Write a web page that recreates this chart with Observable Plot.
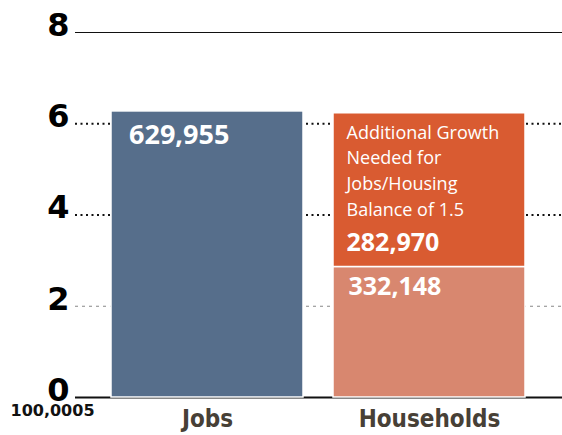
<!DOCTYPE html>
<html>
<head>
<meta charset="utf-8">
<script src="https://cdn.jsdelivr.net/npm/d3@7"></script>
<script src="https://cdn.jsdelivr.net/npm/@observablehq/plot@0.6"></script>
<style>
  html, body { margin: 0; padding: 0; background: #fff; }
  #chart svg { display: block; }
</style>
</head>
<body>
<div id="chart"></div>
<script>
// Values in units of 100,000 (heights)
const categories = ["Jobs", "Households", "Households"];
const series = ["Jobs", "Existing", "Additional"];
const values = [6.27, 2.86, 3.37];
const valueLabels = ["629,955", "332,148", "282,970"];
const yTicks = [0, 2, 4, 6, 8];
const unitLabel = "100,0005";
const noteText = "Additional Growth\nNeeded for\nJobs/Housing\nBalance of 1.5";
const colors = ["#566e8b", "#d8876f", "#d95b31"];

const data = categories.map((c, i) => ({cat: c, series: series[i], value: values[i], label: valueLabels[i]}));
// stacked tops/bottoms
const acc = {};
data.forEach(d => { d.y1 = acc[d.cat] || 0; d.y2 = d.y1 + d.value; acc[d.cat] = d.y2; });

const jobs = data.filter(d => d.series === "Jobs");
const existing = data.filter(d => d.series === "Existing");
const additional = data.filter(d => d.series === "Additional");

const numFont = "'Open Sans', sans-serif";

const chart = Plot.plot({
  width: 562,
  height: 435,
  marginLeft: 75,
  marginRight: 0,
  marginTop: 32,
  marginBottom: 38,
  style: {background: "#fff", overflow: "visible"},
  x: {domain: ["Jobs", "Households"], paddingInner: 0.135, paddingOuter: 0.16, align: 0.49, label: null},
  y: {domain: [0, 8], label: null},
  color: {domain: series, range: colors},
  marks: [
    Plot.ruleY([8], {stroke: "#111", strokeWidth: 1.2}),
    Plot.ruleY([6, 4], {stroke: "#111", strokeWidth: 1.8, strokeDasharray: "2,3.5"}),
    Plot.ruleY([2], {stroke: "#888", strokeWidth: 1.2, strokeDasharray: "3,4"}),
    Plot.ruleY([0], {stroke: "#111", strokeWidth: 2}),
    Plot.barY(data, {x: "cat", y1: "y1", y2: "y2", fill: "series", stroke: "#fff", strokeWidth: 1.5}),
    Plot.text(jobs, {x: "cat", y: "y2", text: "label", textAnchor: "start", dx: -78.5, dy: 24,
      fill: "#fff", fontSize: 27, fontWeight: 700, fontFamily: numFont}),
    Plot.text(additional, {x: "cat", y: "y2", text: () => noteText, textAnchor: "start", lineAnchor: "top",
      lineHeight: 1.43, dx: -83, dy: 7, fill: "#fff", fontSize: 18, fontFamily: numFont}),
    Plot.text(additional, {x: "cat", y: "y2", text: "label", textAnchor: "start", dx: -83, dy: 130,
      fill: "#fff", fontSize: 25, fontWeight: 700, fontFamily: numFont}),
    Plot.text(existing, {x: "cat", y: "y2", text: "label", textAnchor: "start", dx: -81, dy: 20,
      fill: "#fff", fontSize: 25, fontWeight: 700, fontFamily: numFont}),
    Plot.axisY(yTicks, {tickSize: 0, tickPadding: 6, dy: -7, fontSize: 32, fontWeight: 900,
      fontFamily: "'DejaVu Sans', sans-serif", fill: "#000", label: null}),
    Plot.axisX({tickSize: 0, tickPadding: 12, fontSize: 24, fontWeight: 700,
      fontFamily: "'DejaVu Sans Condensed', 'DejaVu Sans', sans-serif", fill: "#474036", label: null}),
    Plot.text([unitLabel], {frameAnchor: "bottom-left", text: d => d, textAnchor: "start", dx: -65, dy: 18,
      fontSize: 16, fontWeight: 700, fontFamily: "'DejaVu Sans', sans-serif", fill: "#111"})
  ]
});

document.getElementById("chart").appendChild(chart);
</script>
</body>
</html>
